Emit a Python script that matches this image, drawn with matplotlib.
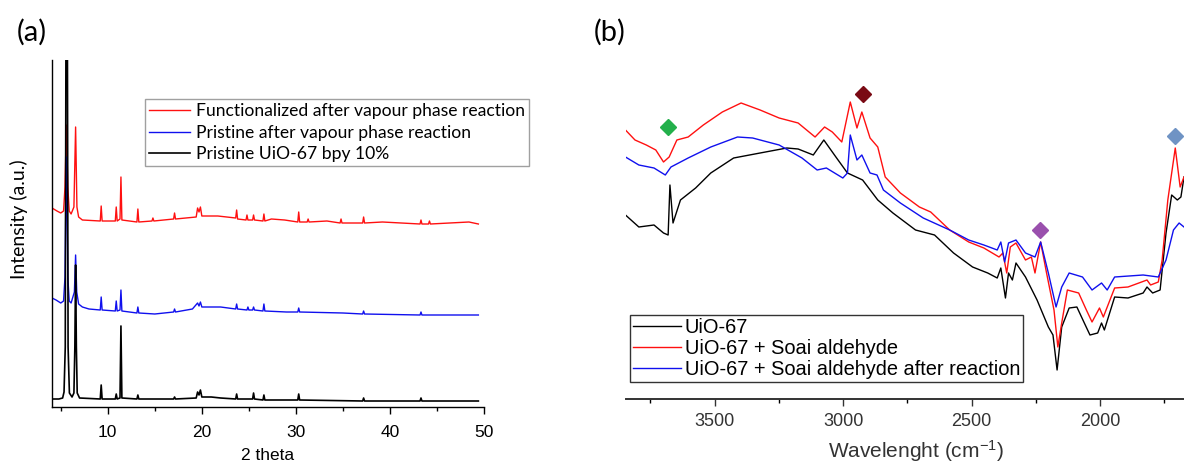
import numpy as np
import matplotlib
matplotlib.use("Agg")
import matplotlib.pyplot as plt

plt.rcParams["font.family"] = ["Liberation Sans", "DejaVu Sans"]
plt.rcParams["mathtext.fontset"] = "custom"
plt.rcParams["mathtext.rm"] = "Liberation Sans"
plt.rcParams["mathtext.it"] = "Liberation Sans"

# ---- (a) XRD patterns, offset intensities (a.u.) ----
xrd_red_x = [4.07, 4.6, 5.0, 5.3, 5.45, 5.6, 5.75, 5.9, 6.1, 6.4, 6.58, 6.72, 6.9, 7.3,
             9.2, 9.3, 9.4, 10.8, 10.9, 11.0, 11.3, 11.4, 11.5, 13.1, 13.2, 13.3,
             14.7, 14.8, 14.9, 17.0, 17.1, 17.2, 19.4, 19.55, 19.7, 19.85, 20.0, 21.7,
             23.6, 23.7, 23.8, 24.7, 24.8, 24.9, 25.4, 25.5, 25.6, 26.5, 26.6, 26.7,
             27.4, 28.8, 30.2, 30.3, 30.4, 31.2, 31.3, 31.4, 33.3, 34.7, 34.8, 34.9,
             37.1, 37.2, 37.3, 39.2, 43.2, 43.3, 43.4, 44.1, 44.2, 44.3, 48.4, 49.4]
xrd_red_y = [199, 196, 194, 196, 220, 282, 220, 196, 193, 200, 280, 200, 190, 187,
             186, 201, 186, 186, 200, 186, 188, 230, 187, 185, 198, 185,
             186, 189, 186, 188, 194, 188, 190, 199, 195, 200, 191, 191,
             189, 197, 188, 187, 192, 187, 187, 192, 187, 186, 193, 186,
             188, 187, 185, 195, 185, 185, 188, 185, 186, 184, 188, 184,
             184, 190, 184, 185, 183, 187, 183, 183, 186, 183, 185, 183]

xrd_blue_x = [4.07, 4.5, 5.0, 5.3, 5.45, 5.6, 5.75, 5.9, 6.1, 6.45, 6.58, 6.7, 6.9, 7.3,
              8.0, 9.2, 9.3, 9.4, 10.8, 10.9, 11.0, 11.3, 11.4, 11.5, 13.1, 13.2, 13.3,
              15.0, 17.0, 17.1, 17.2, 19.0, 19.55, 19.7, 19.85, 20.0, 22.0,
              23.6, 23.7, 23.8, 24.8, 24.9, 25.0, 25.4, 25.5, 25.6, 26.5, 26.6, 26.7,
              29.0, 30.2, 30.3, 30.4, 35.0, 37.1, 37.2, 37.3, 43.2, 43.3, 43.4, 49.4]
xrd_blue_y = [109, 107, 104, 106, 130, 250, 130, 106, 104, 115, 152, 115, 103, 100,
              98, 97, 110, 97, 96, 106, 96, 97, 117, 96, 94, 100, 94,
              93, 95, 98, 95, 98, 104, 101, 105, 100, 100,
              98, 103, 98, 97, 100, 97, 97, 100, 97, 96, 103, 96,
              95, 95, 99, 95, 94, 93, 96, 93, 92, 95, 92, 92]

xrd_black_x = [4.07, 4.8, 5.2, 5.35, 5.48, 5.56, 5.7, 5.78, 5.92, 6.2, 6.4, 6.5, 6.58, 6.66,
               6.75, 7.0, 9.2, 9.3, 9.4, 10.8, 10.9, 11.0, 11.3, 11.4, 11.5,
               13.1, 13.2, 13.3, 17.0, 17.1, 17.2, 19.4, 19.55, 19.7, 19.85, 20.0,
               21.0, 22.0, 23.6, 23.7, 23.8, 25.4, 25.5, 25.6, 26.5, 26.6, 26.7,
               30.2, 30.3, 30.4, 37.1, 37.2, 37.3, 43.2, 43.3, 43.4, 49.4]
xrd_black_y = [8, 8, 9, 15, 60, 400, 400, 60, 14, 10, 14, 60, 142, 60,
               14, 9, 8, 22, 8, 8, 13, 8, 9, 81, 9,
               8, 12, 8, 8, 10, 8, 9, 15, 12, 17, 10,
               10, 9, 8, 13, 8, 8, 14, 8, 7, 12, 7,
               7, 13, 7, 6, 9, 6, 6, 9, 6, 6]

xrd_labels = ["Functionalized after vapour phase reaction",
              "Pristine after vapour phase reaction",
              "Pristine UiO-67 bpy 10%"]

# ---- (b) FTIR spectra (wavenumber, offset signal) ----
ir_black_x = [3847, 3795, 3736, 3699, 3681, 3674, 3662, 3633, 3574, 3515, 3426, 3323,
              3219, 3175, 3116, 3075, 3028, 2983, 2924, 2865, 2806, 2718, 2644, 2570,
              2496, 2437, 2400, 2386, 2368, 2356, 2341, 2327, 2290, 2245, 2201, 2183,
              2167, 2149, 2120, 2090, 2061, 2039, 2009, 1994, 1983, 1943, 1891, 1832,
              1817, 1795, 1766, 1743, 1721, 1699, 1685, 1673]
ir_black_y = [184, 172, 174, 166, 164, 214, 176, 199, 211, 226, 241, 246,
              251, 250, 244, 259, 242, 226, 219, 199, 186, 169, 164, 146,
              132, 126, 121, 131, 101, 126, 119, 136, 122, 99, 72, 64,
              29, 72, 91, 92, 76, 64, 66, 76, 69, 102, 101, 106,
              112, 106, 109, 166, 204, 199, 202, 222]

ir_red_x = [3847, 3810, 3766, 3729, 3699, 3677, 3647, 3603, 3544, 3470, 3397, 3323,
            3249, 3175, 3109, 3072, 3042, 3005, 2972, 2946, 2927, 2895, 2865, 2836,
            2777, 2703, 2659, 2585, 2511, 2452, 2393, 2378, 2363, 2349, 2327, 2290,
            2267, 2253, 2231, 2208, 2179, 2164, 2149, 2127, 2083, 2053, 2031, 2002,
            1987, 1943, 1891, 1817, 1803, 1773, 1758, 1736, 1707, 1688, 1673]
ir_red_y = [269, 259, 254, 249, 237, 242, 259, 262, 274, 287, 296, 289,
            281, 276, 262, 272, 267, 257, 297, 271, 287, 261, 252, 222,
            206, 192, 187, 169, 157, 151, 142, 146, 126, 152, 156, 139,
            142, 126, 157, 126, 89, 52, 76, 109, 106, 89, 77, 91,
            82, 111, 112, 119, 114, 117, 139, 199, 251, 212, 222]

ir_blue_x = [3847, 3795, 3736, 3692, 3670, 3603, 3515, 3411, 3352, 3249, 3160, 3101,
             3065, 3001, 2983, 2972, 2946, 2927, 2895, 2868, 2843, 2777, 2688, 2585,
             2511, 2452, 2400, 2386, 2371, 2356, 2327, 2290, 2253, 2231, 2201, 2171,
             2149, 2120, 2068, 2031, 1994, 1972, 1943, 1832, 1773, 1743, 1714, 1692, 1673]
ir_blue_y = [242, 234, 231, 224, 232, 241, 252, 262, 261, 254, 241, 229,
             231, 221, 226, 264, 239, 244, 226, 224, 209, 196, 181, 169,
             159, 154, 149, 157, 137, 156, 159, 146, 142, 157, 126, 92,
             112, 126, 122, 109, 116, 109, 122, 124, 122, 139, 169, 176, 172]

ir_labels = ["UiO-67", "UiO-67 + Soai aldehyde", "UiO-67 + Soai aldehyde after reaction"]

marker_x = [3683, 2924, 2234, 1708]
marker_y = [272, 305, 169, 263]
marker_colors = ["#23b04b", "#7a0a14", "#9a50ad", "#6f93c4"]

fig = plt.figure(figsize=(11.84, 4.62), dpi=100)

# panel (a)
ax1 = fig.add_axes([52 / 1184, 55 / 462, 432 / 1184, 347 / 462])
ax1.plot(xrd_red_x, xrd_red_y, color="#ff1010", lw=1.0, label=xrd_labels[0])
ax1.plot(xrd_blue_x, xrd_blue_y, color="#1010ee", lw=1.0, label=xrd_labels[1])
ax1.plot(xrd_black_x, xrd_black_y, color="black", lw=1.2, label=xrd_labels[2])
ax1.set_xlim(4.07, 50)
ax1.set_ylim(0, 347)
ax1.set_xticks([10, 20, 30, 40, 50])
ax1.set_xticks(np.arange(5, 50, 10), minor=True)
ax1.set_yticks([])
for s in ["top", "right"]:
    ax1.spines[s].set_visible(False)
for s in ["left", "bottom"]:
    ax1.spines[s].set_linewidth(1.0)
ax1.tick_params(axis="x", direction="out", length=5, width=1.0, labelsize=12.5, pad=8)
ax1.tick_params(axis="x", which="minor", length=3, width=1.0)
ax1.set_xlabel("2 theta", fontsize=12.5, labelpad=6)
ax1.set_ylabel("Intensity (a.u.)", fontsize=14, family="Lato")
ax1.yaxis.set_label_coords(-0.056, 0.54)
leg1 = ax1.legend(loc="upper left", bbox_to_anchor=(145 / 1184, 1 - 99 / 462),
                  bbox_transform=fig.transFigure, frameon=True, fancybox=False,
                  prop={"family": "Lato", "size": 12.6}, handlelength=2.3,
                  handletextpad=0.35, borderaxespad=0, borderpad=0.25, labelspacing=0.3)
leg1.get_frame().set_edgecolor("#888888")
leg1.get_frame().set_linewidth(1.0)

# panel (b)
ax2 = fig.add_axes([626 / 1184, 63 / 462, 558 / 1184, 339 / 462])
ax2.plot(ir_black_x, ir_black_y, color="black", lw=1.0, label=ir_labels[0])
ax2.plot(ir_red_x, ir_red_y, color="#ff1010", lw=1.0, label=ir_labels[1])
ax2.plot(ir_blue_x, ir_blue_y, color="#1010ee", lw=1.0, label=ir_labels[2])
for mx, my, mc in zip(marker_x, marker_y, marker_colors):
    ax2.plot(mx, my, marker="D", color=mc, ms=8.5, ls="none")
ax2.set_xlim(3845, 1673)
ax2.set_ylim(0, 339)
ax2.set_xticks([3500, 3000, 2500, 2000])
ax2.set_xticks([3750, 3250, 2750, 2250, 1750], minor=True)
ax2.set_yticks([])
for s in ["top", "right", "left"]:
    ax2.spines[s].set_visible(False)
ax2.spines["bottom"].set_linewidth(1.4)
ax2.spines["bottom"].set_color("#333333")
ax2.tick_params(axis="x", direction="out", length=5, width=1.0, color="#333333",
                labelsize=13, labelcolor="#333333", pad=5)
ax2.tick_params(axis="x", which="minor", length=3, width=1.0)
ax2.set_xlabel("Wavelenght (cm$^{-1}$)", fontsize=15, color="#333333", labelpad=6)
ax2.xaxis.set_label_coords(0.52, -0.115)
leg2 = ax2.legend(loc="upper left", bbox_to_anchor=(630 / 1184, 1 - 315 / 462),
                  bbox_transform=fig.transFigure, frameon=True, fancybox=False,
                  prop={"size": 14.4}, handlelength=2.4, handletextpad=0.2,
                  borderaxespad=0, borderpad=0.15, labelspacing=0.1)
leg2.get_frame().set_edgecolor("black")
leg2.get_frame().set_linewidth(1.0)

fig.text(17 / 1184, 1 - 32 / 462, "(a)", fontsize=21, family="Lato", va="center")
fig.text(594 / 1184, 1 - 32 / 462, "(b)", fontsize=21, family="Lato", va="center")

fig.savefig("out.png", dpi=100)
